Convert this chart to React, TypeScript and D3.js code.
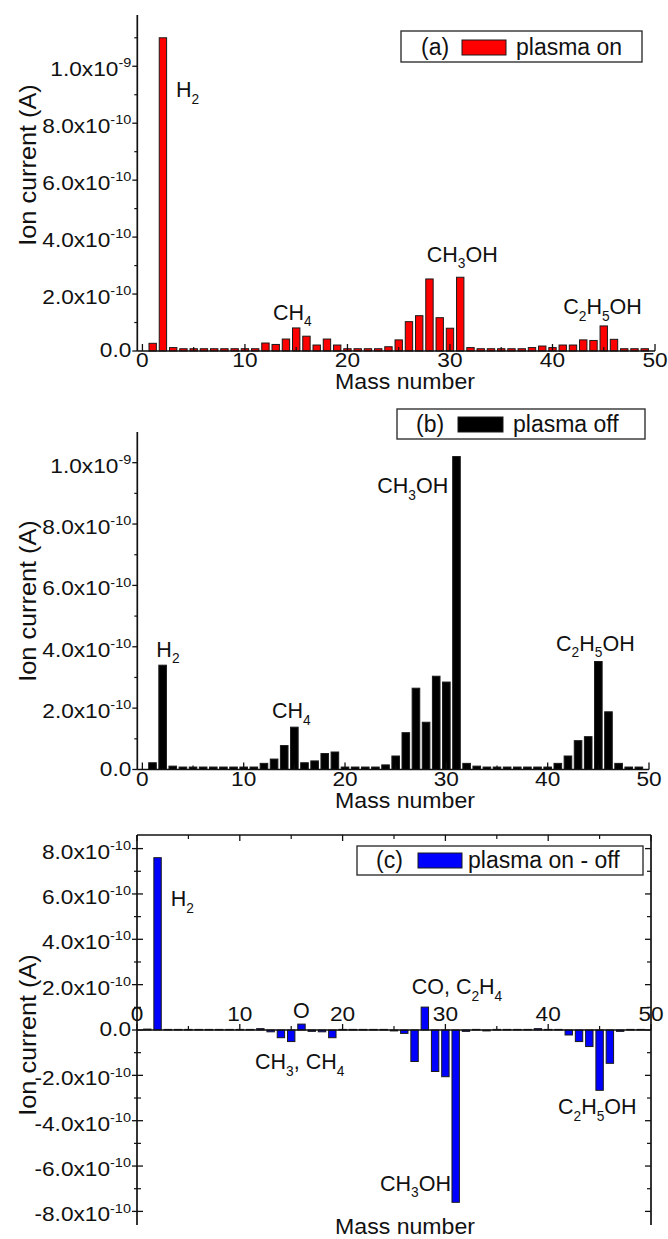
import React from 'react';
import * as d3 from 'd3';

// ---------- data ----------
const massNumbers = [1,2,3,4,5,6,7,8,9,10,11,12,13,14,15,16,17,18,19,20,21,22,23,24,25,26,27,28,29,30,31,32,33,34,35,36,37,38,39,40,41,42,43,44,45,46,47,48,49];
const UNIT = 1e-11; // values below in units of 1e-11 A

// (a) plasma on
const plasmaOn = [2.7,110,1.2,0.8,0.8,0.8,0.8,0.8,0.8,0.8,0.8,2.8,2.3,4.2,8.1,5.2,2.1,4.2,2.1,0.8,0.8,0.8,0.8,1.5,3.9,10.3,12.4,25.3,11.7,8.0,25.9,1.2,0.8,0.8,0.8,0.8,0.8,1.2,1.75,1.2,2.1,2.1,3.9,3.7,8.8,4.1,0.8,0.8,0.8];
// (b) plasma off
const plasmaOff = [2.2,34,1.1,0.8,0.8,0.8,0.8,0.8,0.8,0.8,0.8,2.0,3.4,7.8,13.8,2.2,2.8,5.2,5.7,0.8,0.8,0.8,0.8,1.5,4.4,12.0,26.5,15.4,30.4,28.5,102,2.0,1.1,0.8,0.8,0.8,0.8,0.8,0.8,0.8,2.0,4.4,9.4,10.7,35.2,18.8,2.0,0.8,0.8];
// (c) plasma on - off
const plasmaDiff = [0.4,76,0.1,0,0,0,0,0,0,0,0,0.6,-0.8,-3.4,-5.1,2.6,-0.6,-0.8,-3.4,0,0,0,0,0,-0.4,-1.5,-13.9,10.1,-18.3,-20.6,-76,-0.6,0,-0.4,0,0,0,0,0.6,0,0,-2.2,-5.1,-7.3,-26.6,-14.7,-0.6,0,0];

const xTicks = [0,10,20,30,40,50];
const xMinorTicks = [5,15,25,35,45];
const yTicksAB = [0,2e-10,4e-10,6e-10,8e-10,1e-9];
const yMinorA = [1e-10,3e-10,5e-10,7e-10,9e-10,1.1e-9];
const yMinorB = [1e-10,3e-10,5e-10,7e-10,9e-10];
const yTicksC = [-8e-10,-6e-10,-4e-10,-2e-10,0,2e-10,4e-10,6e-10,8e-10];
const yMinorC = [-7e-10,-5e-10,-3e-10,-1e-10,1e-10,3e-10,5e-10,7e-10];

const annotationsA = [
  { text: 'H_2', m: 3.27, v: 8.91e-10 },
  { text: 'CH_4', m: 12.73, v: 1.105e-10 },
  { text: 'CH_3OH', m: 27.73, v: 3.13e-10 },
  { text: 'C_2H_5OH', m: 41.05, v: 1.29e-10 },
];
const annotationsB = [
  { text: 'H_2', m: 1.38, v: 3.68e-10 },
  { text: 'CH_4', m: 12.79, v: 1.67e-10 },
  { text: 'CH_3OH', m: 23.18, v: 9.0e-10 },
  { text: 'C_2H_5OH', m: 40.83, v: 3.87e-10 },
];
const annotationsC = [
  { text: 'H_2', m: 3.28, v: 5.46e-10 },
  { text: 'O', m: 15.18, v: 5.15e-11 },
  { text: 'CH_3, CH_4', m: 11.48, v: -1.73e-10 },
  { text: 'CO, C_2H_4', m: 26.72, v: 1.57e-10 },
  { text: 'CH_3OH', m: 23.64, v: -7.09e-10 },
  { text: 'C_2H_5OH', m: 40.95, v: -3.71e-10 },
];

const FONT = '"Liberation Sans", Arial, Helvetica, sans-serif';
const INK = '#111';

// ---------- rich text ----------
type Seg = { t: string; kind: 'n' | 'sub' | 'sup' };
function parseRich(s: string): Seg[] {
  const out: Seg[] = [];
  let buf = '';
  for (let i = 0; i < s.length; i++) {
    const c = s[i];
    if (c === '_') {
      if (buf) out.push({ t: buf, kind: 'n' });
      buf = '';
      out.push({ t: s[i + 1], kind: 'sub' });
      i++;
    } else if (c === '^' && s[i + 1] === '{') {
      if (buf) out.push({ t: buf, kind: 'n' });
      buf = '';
      const j = s.indexOf('}', i);
      out.push({ t: s.slice(i + 2, j), kind: 'sup' });
      i = j;
    } else buf += c;
  }
  if (buf) out.push({ t: buf, kind: 'n' });
  return out;
}

function RichText({ x, y, text, size, anchor = 'start', rotate = 0, sx = 1 }:
  { x: number; y: number; text: string; size: number; anchor?: string; rotate?: number; sx?: number }) {
  const segs = parseRich(text);
  let cur = 0;
  return (
    <g transform={`translate(${x},${y}) rotate(${rotate}) scale(${sx},1)`}>
      <text fontFamily={FONT} fontSize={size} textAnchor={anchor as any} fill={INK}>
        {segs.map((s, i) => {
          const target = s.kind === 'sub' ? size * 0.3 : s.kind === 'sup' ? -size * 0.42 : 0;
          const dy = target - cur;
          cur = target;
          return (
            <tspan key={i} dy={dy} fontSize={s.kind === 'n' ? size : size * 0.64}>{s.t}</tspan>
          );
        })}
      </text>
    </g>
  );
}

function fmtY(v: number): string {
  if (Math.abs(v) < 1e-15) return '0.0';
  const e = Math.floor(Math.log10(Math.abs(v)) + 1e-9);
  const m = v / Math.pow(10, e);
  return `${m.toFixed(1)}x10^{${e}}`;
}

// ---------- panel ----------
type PanelCfg = {
  left: number; right: number; top: number; bottom: number;
  xDomain: [number, number]; yDomain: [number, number];
  values: number[]; color: string; barFrac: number;
  yTicks: number[]; yMinor: number[];
  annotations: { text: string; m: number; v: number }[];
  mode: 'bottom' | 'center';
  legend: { tag: string; text: string; box: [number, number, number, number]; tagX: number; sw: [number, number]; textX: number; base: number };
  titleY: number; xLabelBase: number; xTitleBase: number;
};

function Panel({ c }: { c: PanelCfg }) {
  const x = d3.scaleLinear().domain(c.xDomain).range([c.left, c.right]);
  const y = d3.scaleLinear().domain(c.yDomain).range([c.bottom, c.top]);
  const bw = (x(1) - x(0)) * c.barFrac;
  const y0 = y(0);
  const axisW = 1.7;
  const lg = c.legend;
  return (
    <g>
      {/* bars */}
      {massNumbers.map((m, i) => {
        const v = c.values[i] * UNIT;
        const yv = y(v);
        const h = Math.max(Math.abs(yv - y0), 0.6);
        return (
          <rect key={m} x={x(m) - bw / 2} y={v >= 0 ? y0 - h : y0} width={bw} height={h}
            fill={c.color} stroke="#1a1a1a" strokeWidth={1} />
        );
      })}
      {/* left axis */}
      <line x1={c.left} x2={c.left} y1={c.top} y2={c.bottom} stroke={INK} strokeWidth={axisW} />
      {c.yTicks.map((t) => (
        <g key={'yt' + t}>
          <line x1={c.left - 5} x2={c.mode === 'center' ? c.left + 6 : c.left} y1={y(t)} y2={y(t)} stroke={INK} strokeWidth={1.3} />
          <RichText x={c.left - 6} y={y(t) + (t === 0 ? 6 : 10)} text={fmtY(t)} size={21} anchor="end" sx={1.08} />
        </g>
      ))}
      {c.yMinor.map((t) => (
        <line key={'ym' + t} x1={c.left - 3} x2={c.mode === 'center' ? c.left + 4 : c.left} y1={y(t)} y2={y(t)} stroke={INK} strokeWidth={1.2} />
      ))}
      {c.mode === 'bottom' ? (
        <g>
          <line x1={c.left} x2={c.right} y1={c.bottom} y2={c.bottom} stroke={INK} strokeWidth={axisW} />
          {xTicks.map((t) => (
            <g key={'xt' + t}>
              <line x1={x(t)} x2={x(t)} y1={c.bottom} y2={c.bottom - 7} stroke={INK} strokeWidth={1.3} />
              <RichText x={x(t)} y={c.xLabelBase} text={String(t)} size={21} anchor="middle" sx={1.08} />
            </g>
          ))}
          {xMinorTicks.map((t) => (
            <line key={'xm' + t} x1={x(t)} x2={x(t)} y1={c.bottom} y2={c.bottom - 4} stroke={INK} strokeWidth={1.2} />
          ))}
        </g>
      ) : (
        <g>
          {/* frame: top, right, zero line */}
          <line x1={c.left} x2={c.right} y1={c.top} y2={c.top} stroke={INK} strokeWidth={axisW} />
          <line x1={c.right} x2={c.right} y1={c.top} y2={c.bottom} stroke={INK} strokeWidth={axisW} />
          <line x1={c.left} x2={c.right} y1={y0} y2={y0} stroke={INK} strokeWidth={axisW} />
          {c.yTicks.map((t) => (
            <line key={'ry' + t} x1={c.right - 6} x2={c.right} y1={y(t)} y2={y(t)} stroke={INK} strokeWidth={1.3} />
          ))}
          {c.yMinor.map((t) => (
            <line key={'rym' + t} x1={c.right - 4} x2={c.right} y1={y(t)} y2={y(t)} stroke={INK} strokeWidth={1.2} />
          ))}
          {xTicks.map((t) => (
            <g key={'xt' + t}>
              <line x1={x(t)} x2={x(t)} y1={y0} y2={y0 - 6} stroke={INK} strokeWidth={1.3} />
              <line x1={x(t)} x2={x(t)} y1={c.top} y2={c.top + 6} stroke={INK} strokeWidth={1.3} />
              <RichText x={x(t)} y={c.xLabelBase} text={String(t)} size={21} anchor="middle" sx={1.08} />
            </g>
          ))}
          {xMinorTicks.map((t) => (
            <g key={'xm' + t}>
              <line x1={x(t)} x2={x(t)} y1={y0} y2={y0 - 4} stroke={INK} strokeWidth={1.2} />
              <line x1={x(t)} x2={x(t)} y1={c.top} y2={c.top + 4} stroke={INK} strokeWidth={1.2} />
            </g>
          ))}
        </g>
      )}
      {/* annotations */}
      {c.annotations.map((a) => (
        <RichText key={a.text + a.m} x={x(a.m)} y={y(a.v)} text={a.text} size={21.5} />
      ))}
      {/* axis titles */}
      <RichText x={36} y={c.titleY} text="Ion current (A)" size={23} anchor="middle" rotate={-90} sx={1.1} />
      <RichText x={405} y={c.xTitleBase} text="Mass number" size={22} anchor="middle" sx={1.05} />
      {/* legend */}
      <rect x={lg.box[0]} y={lg.box[1]} width={lg.box[2] - lg.box[0]} height={lg.box[3] - lg.box[1]}
        fill="#fff" stroke="#333" strokeWidth={1.4} />
      <RichText x={lg.tagX} y={lg.base} text={lg.tag} size={23} />
      <rect x={lg.sw[0]} y={lg.base - 15} width={lg.sw[1] - lg.sw[0]} height={15}
        fill={c.color} stroke="#1a1a1a" strokeWidth={1} />
      <RichText x={lg.textX} y={lg.base} text={lg.text} size={23} />
    </g>
  );
}

const panels: PanelCfg[] = [
  {
    left: 137.3, right: 655, top: 15, bottom: 351, xDomain: [-0.5, 50], yDomain: [0, 1.18e-9],
    values: plasmaOn, color: '#ff0000', barFrac: 0.72, yTicks: yTicksAB, yMinor: yMinorA,
    annotations: annotationsA, mode: 'bottom',
    legend: { tag: '(a)', text: 'plasma on', box: [401, 31, 642, 62], tagX: 421, sw: [462, 506], textX: 516, base: 55 },
    titleY: 165, xLabelBase: 367, xTitleBase: 389,
  },
  {
    left: 137.3, right: 649, top: 432, bottom: 769.5, xDomain: [-0.5, 50], yDomain: [0, 1.1e-9],
    values: plasmaOff, color: '#000000', barFrac: 0.75, yTicks: yTicksAB, yMinor: yMinorB,
    annotations: annotationsB, mode: 'bottom',
    legend: { tag: '(b)', text: 'plasma off', box: [397, 409, 645, 439], tagX: 416, sw: [458, 503], textX: 513, base: 432 },
    titleY: 601, xLabelBase: 786, xTitleBase: 808,
  },
  {
    left: 137, right: 651, top: 835, bottom: 1225, xDomain: [0, 50], yDomain: [-8.6e-10, 8.6e-10],
    values: plasmaDiff, color: '#0000ff', barFrac: 0.72, yTicks: yTicksC, yMinor: yMinorC,
    annotations: annotationsC, mode: 'center',
    legend: { tag: '(c)', text: 'plasma on - off', box: [357, 846, 643, 875], tagX: 376, sw: [418, 462], textX: 468, base: 868 },
    titleY: 1035, xLabelBase: 1021, xTitleBase: 1234,
  },
];

export default function App() {
  return (
    <svg width={668} height={1239} viewBox="0 0 668 1239"
      style={{ position: 'absolute', left: 0, top: 0, background: '#fff' }}>
      <rect x={0} y={0} width={668} height={1239} fill="#fff" />
      {panels.map((p, i) => <Panel key={i} c={p} />)}
    </svg>
  );
}
